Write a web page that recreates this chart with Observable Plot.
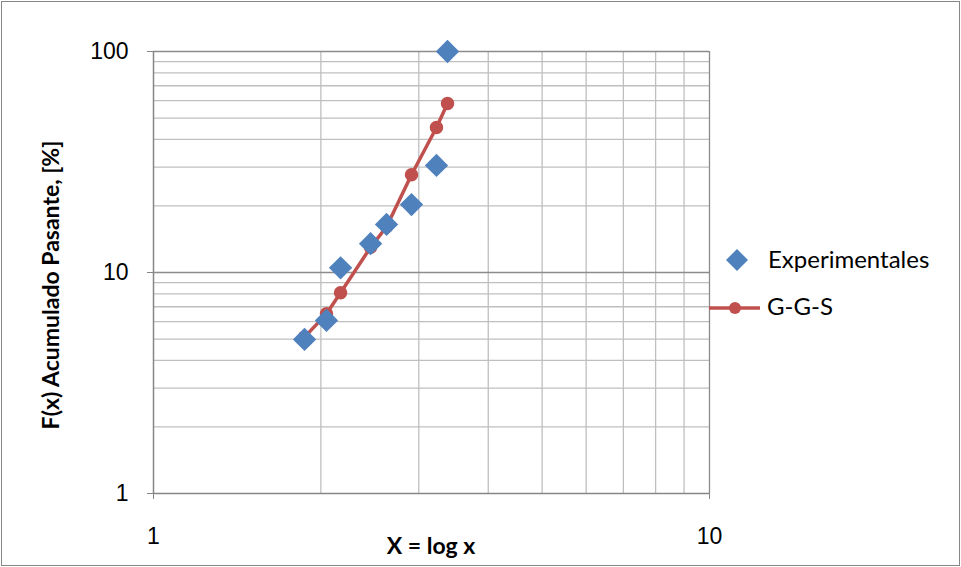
<!DOCTYPE html>
<html>
<head>
<meta charset="utf-8">
<script src="https://cdn.jsdelivr.net/npm/d3@7"></script>
<script src="https://cdn.jsdelivr.net/npm/@observablehq/plot@0.6"></script>
<style>
  html, body { margin: 0; padding: 0; background: #fff; }
  #wrap { position: relative; width: 961px; height: 567px; overflow: hidden; }
  #border { position: absolute; left: 1px; top: 1px; width: 957px; height: 563px; border: 1px solid #878787; pointer-events: none; }
</style>
</head>
<body>
<div id="wrap"><div id="border"></div></div>
<script>
// Experimental data: x = size, y = cumulative passing %
const expX = [1.869, 2.047, 2.170, 2.457, 2.625, 2.911, 3.228, 3.379];
const expY = [4.98, 6.07, 10.5, 13.5, 16.5, 20.3, 30.5, 100];
// G-G-S model fit
const ggsX = [1.869, 2.047, 2.170, 2.457, 2.625, 2.911, 3.228, 3.379];
const ggsY = [5.1, 6.5, 8.1, 13.0, 16.1, 27.7, 45.3, 58.2];
// ticks & grid
const xTicks = [1, 10];
const yTicks = [1, 10, 100];
const xGridMinor = [2, 3, 4, 5, 6, 7, 8, 9];
const yGridMinor = [2, 3, 4, 5, 6, 7, 8, 9, 20, 30, 40, 50, 60, 70, 80, 90];
const yGridMajor = [10];
const seriesNames = ["Experimentales", "G-G-S"];
const xTitle = "X = log x";
const yTitle = "F(x) Acumulado Pasante, [%]";

const expData = expX.map((x, i) => ({x, y: expY[i]}));
const ggsData = ggsX.map((x, i) => ({x, y: ggsY[i]}));

const blue = "#4F81BD", red = "#C0504D";

const chart = Plot.plot({
  width: 961,
  height: 567,
  marginLeft: 153,
  marginRight: 252,
  marginTop: 51,
  marginBottom: 74,
  style: {fontFamily: "'Liberation Sans', Arial, sans-serif", fontSize: "23px", color: "#000", background: "transparent"},
  x: {type: "log", domain: [1, 10]},
  y: {type: "log", domain: [1, 100]},
  marks: [
    Plot.ruleX(xGridMinor, {stroke: "#BFBFBF", strokeWidth: 1.3}),
    Plot.ruleY(yGridMinor, {stroke: "#BFBFBF", strokeWidth: 1.3}),
    Plot.ruleY(yGridMajor, {stroke: "#8C8C8C", strokeWidth: 1.3}),
    Plot.ruleY([100], {stroke: "#8C8C8C", strokeWidth: 1.3}),
    Plot.ruleX([10], {stroke: "#8C8C8C", strokeWidth: 1.3}),
    Plot.axisY({ticks: yTicks, tickFormat: d => String(d), tickSize: 6, tickPadding: 19, stroke: "#868686", fontSize: 23, fill: "#000", label: null}),
    Plot.axisX({ticks: xTicks, tickFormat: d => String(d), tickSize: 6, tickPadding: 28, stroke: "#868686", fontSize: 23, fill: "#000", label: null}),
    Plot.ruleX([1], {stroke: "#868686", strokeWidth: 1.5}),
    Plot.ruleY([1], {stroke: "#868686", strokeWidth: 1.5}),
    Plot.line(ggsData, {x: "x", y: "y", stroke: red, strokeWidth: 3.5}),
    Plot.dot(ggsData, {x: "x", y: "y", r: 6, fill: red, stroke: red}),
    Plot.dot(expData, {x: "x", y: "y", symbol: "diamond2", r: 10.5, fill: blue, stroke: "none"})
  ]
});
document.getElementById("wrap").prepend(chart);

const svg = d3.select(chart);
const titleFont = "Lato, 'Open Sans', sans-serif";
// axis titles
svg.append("text")
  .attr("x", 431).attr("y", 554)
  .attr("text-anchor", "middle")
  .attr("font-family", titleFont)
  .attr("font-weight", "bold").attr("font-size", 23)
  .attr("fill", "#000")
  .text(xTitle);
svg.append("text")
  .attr("transform", "translate(59,285) rotate(-90)")
  .attr("text-anchor", "middle")
  .attr("font-family", titleFont)
  .attr("font-weight", "bold").attr("font-size", 23)
  .attr("fill", "#000")
  .text(yTitle);

// legend
const lg = svg.append("g").attr("font-family", titleFont).attr("font-size", 24).attr("fill", "#000").attr("text-anchor", "start");
lg.append("path").attr("d", "M737,249 L748,260 L737,271 L726,260 Z").attr("fill", blue);
lg.append("text").attr("x", 768).attr("y", 268).attr("text-anchor", "start").text(seriesNames[0]);
lg.append("line").attr("x1", 709).attr("x2", 760).attr("y1", 308).attr("y2", 308).attr("stroke", red).attr("stroke-width", 3.5);
lg.append("circle").attr("cx", 735).attr("cy", 308).attr("r", 6).attr("fill", red);
lg.append("text").attr("x", 767).attr("y", 315).attr("text-anchor", "start").text(seriesNames[1]);
</script>
</body>
</html>
